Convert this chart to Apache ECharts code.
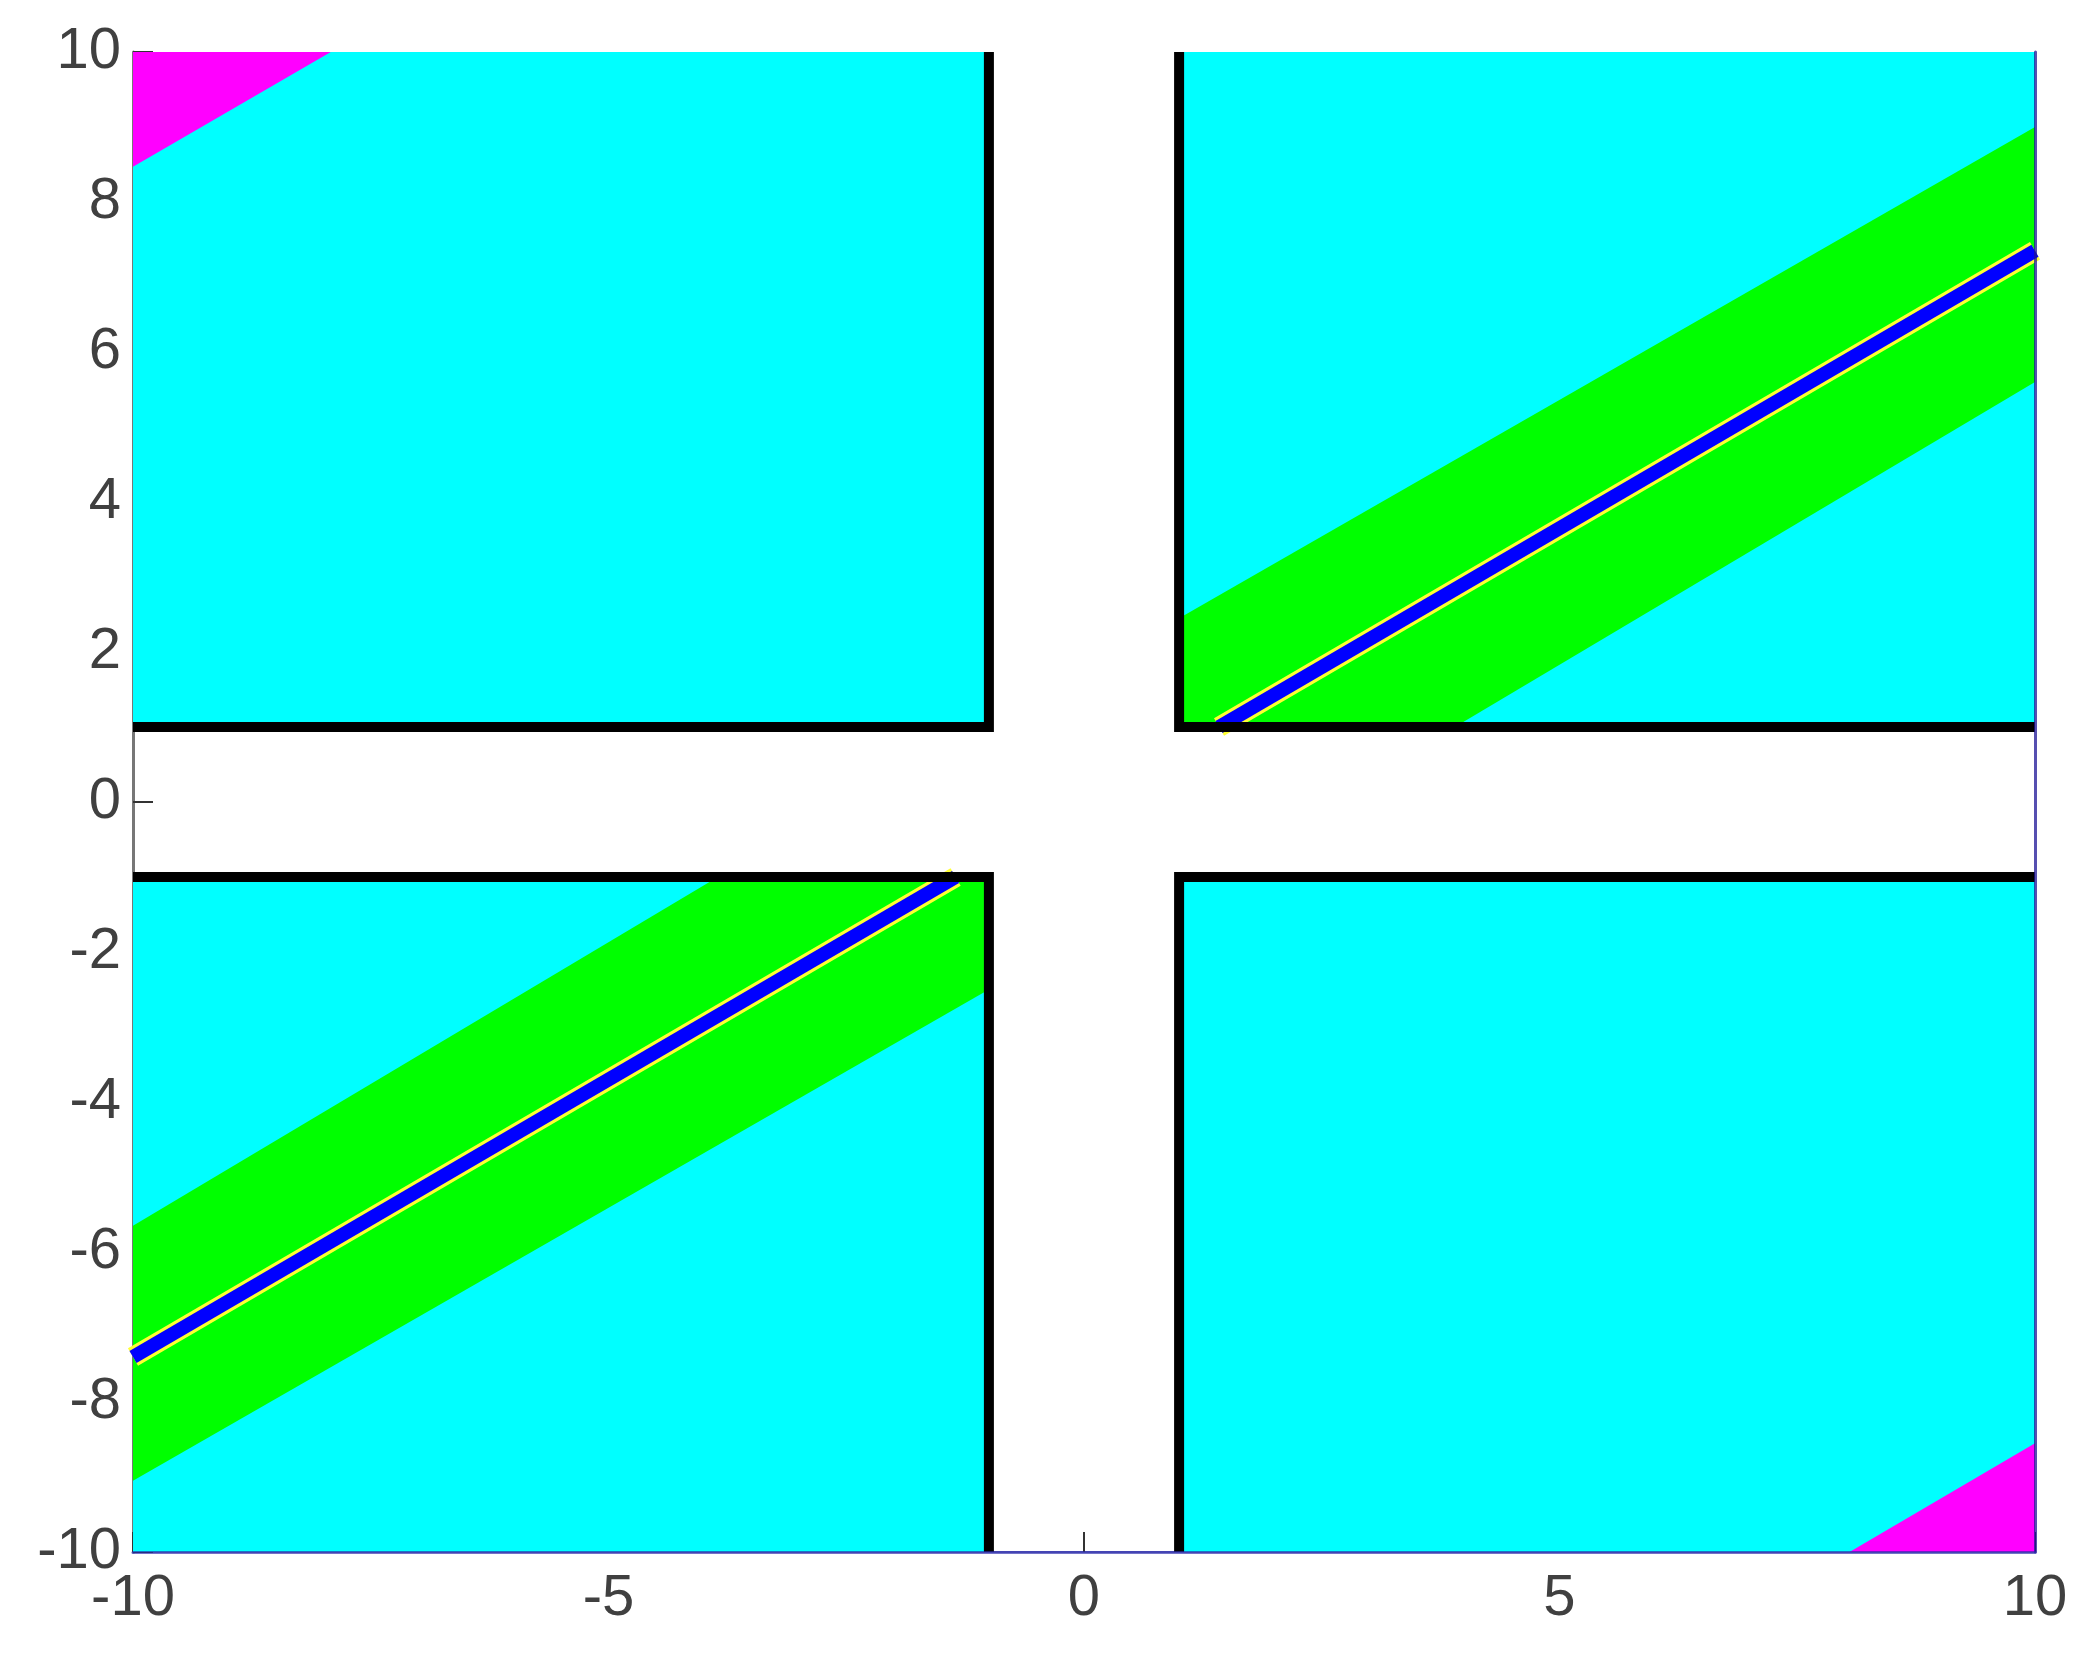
<!DOCTYPE html>
<html style="height: 100%">
<head>
    <meta charset="utf-8">
    <title>Region map</title>
    <script src="https://cdn.jsdelivr.net/npm/echarts@6/dist/echarts.min.js"></script>
</head>
<body style="height: 100%; margin: 0; background: #fff">
    <div id="main" style="width: 2092px; height: 1660px"></div>
    <script>
        // cyan quadrants
        var quadrants = [
            [[1, 1], [10, 1], [10, 10], [1, 10]],
            [[-10, 1], [-1, 1], [-1, 10], [-10, 10]],
            [[-10, -10], [-1, -10], [-1, -1], [-10, -1]],
            [[1, -10], [10, -10], [10, -1], [1, -1]]
        ];
        // green bands around the diagonal
        var greenBands = [
            [[1, 1], [1, 2.45], [10, 9.0], [10, 5.6], [3.9, 1]],
            [[-1, -1], [-1, -2.5], [-10, -9.05], [-10, -5.65], [-3.85, -1]]
        ];
        // magenta corners
        var magentaCorners = [
            [[-10, 10], [-7.92, 10], [-10, 8.47]],
            [[10, -10], [8.05, -10], [10, -8.55]]
        ];
        // blue centre line (yellow rim)
        var centreLines = [
            [[1.42, 1], [10, 7.35]],
            [[-10, -7.4], [-1.35, -1]]
        ];
        // black quadrant borders
        var borders = [
            [[-10, 1], [-1, 1], [-1, 10]],
            [[1, 10], [1, 1], [10, 1]],
            [[-10, -1], [-1, -1], [-1, -10]],
            [[1, -10], [1, -1], [10, -1]]
        ];

        var labelFont = {
            fontSize: 58,
            color: '#404040',
            fontFamily: "'Liberation Sans', Arial, sans-serif",
            margin: 12
        };

        function polygons(list, color, z) {
            return {
                type: 'custom',
                silent: true,
                z: z,
                data: list.map(function (p) { return p[0]; }),
                renderItem: function (params, api) {
                    var pts = list[params.dataIndex].map(function (pt) { return api.coord(pt); });
                    return {
                        type: 'polygon',
                        shape: { points: pts },
                        style: { fill: color }
                    };
                }
            };
        }

        function lines(list, color, width, z) {
            return list.map(function (pts) {
                return {
                    type: 'line',
                    silent: true,
                    z: z,
                    data: pts,
                    showSymbol: false,
                    symbol: 'none',
                    lineStyle: { color: color, width: width, join: 'miter' }
                };
            });
        }

        var chart = echarts.init(document.getElementById('main'));
        var series = [];
        series.push(polygons(quadrants, '#00ffff', 1));
        series.push(polygons(greenBands, '#00ff00', 2));
        series.push(polygons(magentaCorners, '#ff00ff', 2));
        series = series.concat(lines(centreLines, '#ffff33', 20, 3));
        series = series.concat(lines(centreLines, '#0000ff', 14, 4));
        series = series.concat(lines(borders, '#000000', 10, 5));

        chart.setOption({
            animation: false,
            backgroundColor: '#ffffff',
            grid: { left: 133, right: 57, top: 52, bottom: 108, outerBoundsMode: 'none' },
            xAxis: [
                {
                    type: 'value', min: -10, max: 10, interval: 5, position: 'bottom', z: 0,
                    axisLine: { show: true, onZero: false, lineStyle: { color: '#7a7ac4', width: 2 } },
                    axisTick: { show: true, inside: true, length: 20, lineStyle: { color: '#333', width: 2 } },
                    axisLabel: Object.assign({}, labelFont, { margin: 18 }),
                    splitLine: { show: false }
                },
                {
                    type: 'value', min: -10, max: 10, position: 'bottom', z: 10,
                    axisLine: { show: true, onZero: false, lineStyle: { color: 'rgba(40,40,170,0.65)', width: 3 } },
                    axisTick: { show: false }, axisLabel: { show: false }, splitLine: { show: false }
                }
            ],
            yAxis: [
                {
                    type: 'value', min: -10, max: 10, interval: 2, position: 'left', z: 0,
                    axisLine: { show: true, onZero: false, lineStyle: { color: '#777', width: 3 } },
                    axisTick: { show: true, inside: true, length: 20, lineStyle: { color: '#333', width: 2 } },
                    axisLabel: labelFont,
                    splitLine: { show: false }
                },
                {
                    type: 'value', min: -10, max: 10, position: 'right', z: 10,
                    axisLine: { show: true, onZero: false, lineStyle: { color: 'rgba(30,20,150,0.75)', width: 3 } },
                    axisTick: { show: false }, axisLabel: { show: false }, splitLine: { show: false }
                }
            ],
            series: series
        });
    </script>
</body>
</html>
